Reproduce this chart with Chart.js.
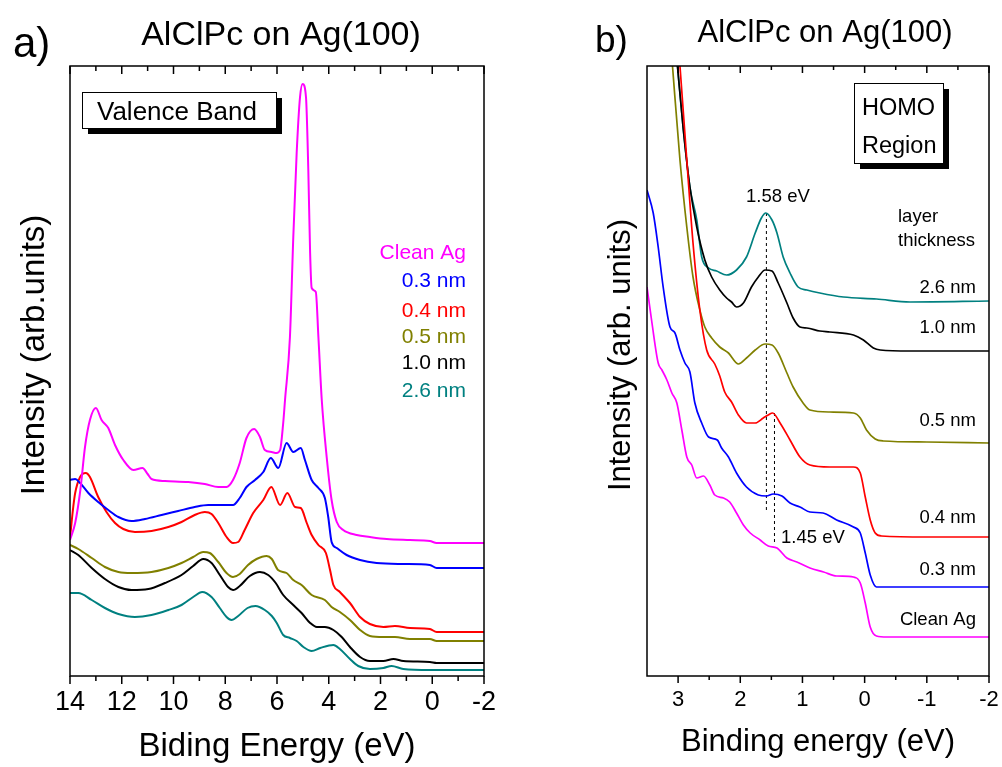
<!DOCTYPE html>
<html lang="en">
<head>
<meta charset="UTF-8">
<title>AlClPc on Ag(100)</title>
<script src="https://cdn.jsdelivr.net/npm/chart.js"></script>
<style>
    body { margin: 0; background: #ffffff; }
    #wrap { position: relative; width: 1002px; height: 767px; }
    canvas { position: absolute; top: 0; }
    #vbChart { left: 0; }
    #homoChart { left: 500px; }
</style>
</head>
<body>
<div id="wrap">
    <canvas id="vbChart" width="500" height="767"></canvas>
    <canvas id="homoChart" width="502" height="767"></canvas>
</div>

<script>
    // layer thickness labels, same order in both panels
    const layers = ['Clean Ag', '0.3 nm', '0.4 nm', '0.5 nm', '1.0 nm', '2.6 nm'];
    const layerColors = ['#ff00ff', '#0000ff', '#ff0000', '#808000', '#000000', '#008080'];

    // a) valence band, [binding energy eV, intensity arb. units]
    const vbClean = [[14,136],[13.8,153],[13.6,186],[13.42,229],[13.23,256],[13.0,268],[12.78,256],[12.52,248],[12.26,231],[11.94,216],[11.55,206],[11.2,208],[11.0,202],[10.85,197],[10.33,195],[9.43,194],[8.79,192],[8.27,189],[7.95,189],[7.7,196],[7.44,213],[7.18,238],[6.88,247],[6.66,239],[6.47,226],[6.21,224],[6.02,223],[5.88,226],[5.76,253],[5.69,276],[5.5,339],[5.37,439],[5.24,523],[5.11,579],[5.01,592],[4.88,579],[4.79,506],[4.72,423],[4.66,388],[4.5,384],[4.4,339],[4.27,276],[4.08,219],[3.89,176],[3.69,154],[3.44,146],[2.92,141],[2.41,139],[1.76,137],[0.86,136],[0.09,135],[-0.17,133],[-2,133]];
    const vb03 = [[14,196],[13.8,197],[13.61,193],[13.29,183],[12.91,174],[12.52,166],[12.13,159],[11.62,155],[11.1,157],[10.46,161],[9.82,165],[9.18,169],[8.66,171],[8.15,171],[7.7,171],[7.44,178],[7.18,189],[6.85,196],[6.53,204],[6.24,218],[5.95,208],[5.63,233],[5.37,224],[5.08,228],[4.92,216],[4.66,196],[4.4,188],[4.15,178],[4.02,159],[3.89,134],[3.69,128],[3.31,121],[2.79,116],[2.15,113],[1.12,112],[0.09,111],[-0.17,108],[-2,108]];
    const vb04 = [[14,138],[13.87,170],[13.8,183],[13.61,199],[13.39,203],[13.23,199],[12.91,179],[12.59,164],[12.26,153],[11.94,147],[11.49,144],[10.85,145],[10.2,149],[9.69,154],[9.18,161],[8.79,164],[8.53,162],[8.27,153],[7.95,139],[7.7,133],[7.5,134],[7.25,146],[6.92,163],[6.53,176],[6.22,189],[5.88,171],[5.6,183],[5.3,169],[5.08,168],[4.85,153],[4.66,141],[4.4,131],[4.11,123],[3.95,106],[3.82,91],[3.57,84],[3.18,73],[2.79,59],[2.41,52],[1.89,49],[1.44,50],[0.86,48],[0.09,47],[-0.17,44],[-2,44]];
    const vb05 = [[14,131],[13.68,127],[13.16,118],[12.65,109],[12.13,104],[11.62,103],[10.85,104],[10.2,108],[9.69,113],[9.24,119],[8.85,124],[8.6,123],[8.27,114],[7.95,103],[7.7,99],[7.44,102],[7.12,111],[6.79,117],[6.4,120],[6.2,117],[5.96,106],[5.63,103],[5.37,96],[5.05,91],[4.66,81],[4.15,76],[3.89,69],[3.57,64],[3.18,56],[2.79,46],[2.41,40],[1.89,39],[1.44,39],[0.86,37],[0.09,37],[-0.17,35],[-2,35]];
    const vb10 = [[14,126],[13.68,121],[13.16,108],[12.65,97],[12.13,89],[11.62,86],[10.97,87],[10.33,93],[9.69,101],[9.24,110],[8.85,117],[8.53,113],[8.21,101],[7.89,89],[7.7,86],[7.44,90],[7.05,100],[6.66,104],[6.34,101],[6.05,93],[5.76,81],[5.37,71],[5.05,63],[4.72,53],[4.46,49],[4.15,49],[3.82,46],[3.5,39],[3.18,29],[2.79,19],[2.41,15],[1.89,15],[1.5,17],[1.12,15],[0.09,14],[-0.17,13],[-2,13]];
    const vb26 = [[14,83],[13.68,83],[13.16,76],[12.65,68],[12.13,62],[11.49,59],[10.85,61],[10.2,66],[9.69,71],[9.24,79],[8.89,84],[8.53,79],[8.21,68],[7.95,59],[7.76,56],[7.5,60],[7.14,68],[6.83,70],[6.47,66],[6.2,60],[6.01,53],[5.76,41],[5.5,38],[5.24,35],[4.98,29],[4.66,25],[4.33,28],[3.82,31],[3.57,27],[3.18,17],[2.86,10],[2.41,7],[1.89,8],[1.57,10],[1.12,7],[0.09,6],[-2,6]];
    const vbTicks = [14, 12, 10, 8, 6, 4, 2, 0, -2];
    const vbMinor = [13, 11, 9, 7, 5, 3, 1, -1];

    // b) HOMO region
    const hoClean = [[3.5,389],[3.42,353],[3.32,313],[3.26,306],[3.18,296],[3.1,283],[3.02,273],[2.94,246],[2.86,219],[2.78,211],[2.7,198],[2.59,200],[2.49,191],[2.41,181],[2.27,178],[2.17,174],[2.06,163],[1.95,151],[1.84,143],[1.68,136],[1.55,130],[1.41,128],[1.25,118],[1.09,114],[0.88,108],[0.66,104],[0.45,100],[0.18,99],[0.07,93],[-0.01,73],[-0.09,49],[-0.19,40],[-0.36,39],[-2,39]];
    const ho03 = [[3.5,486],[3.4,463],[3.32,429],[3.24,389],[3.13,349],[3.05,343],[2.97,326],[2.89,313],[2.81,304],[2.73,273],[2.62,253],[2.51,239],[2.37,236],[2.3,228],[2.19,219],[2.06,203],[1.9,189],[1.71,181],[1.58,180],[1.47,182],[1.33,180],[1.2,173],[1.04,169],[0.88,164],[0.67,163],[0.45,156],[0.18,149],[0.07,143],[-0.01,123],[-0.09,101],[-0.19,89],[-0.36,89],[-2,89]];
    const ho04 = [[3.02,650],[2.97,610],[2.86,516],[2.76,433],[2.65,366],[2.54,326],[2.41,312],[2.33,300],[2.25,284],[2.14,274],[2.03,261],[1.9,253],[1.76,253],[1.63,258],[1.55,261],[1.48,263],[1.36,253],[1.2,236],[1.04,219],[0.88,211],[0.56,209],[0.18,209],[0.07,203],[-0.01,179],[-0.09,156],[-0.17,143],[-0.27,140],[-1,139],[-2,139]];
    const ho05 = [[3.14,650],[3.09,610],[2.97,516],[2.86,449],[2.76,399],[2.65,366],[2.57,349],[2.46,338],[2.33,329],[2.19,323],[2.03,312],[1.9,318],[1.76,326],[1.6,332],[1.49,331],[1.39,323],[1.25,303],[1.15,289],[0.99,273],[0.88,266],[0.56,264],[0.18,263],[0.07,258],[-0.03,246],[-0.17,237],[-0.3,235],[-1,234],[-2,233]];
    const ho10 = [[3.06,645],[3.01,610],[2.92,549],[2.81,489],[2.7,449],[2.57,416],[2.46,399],[2.33,386],[2.22,378],[2.14,374],[2.06,369],[1.95,373],[1.82,389],[1.71,399],[1.6,406],[1.49,405],[1.39,393],[1.25,373],[1.15,358],[1.04,349],[0.93,348],[0.72,345],[0.56,344],[0.18,341],[0.02,336],[-0.14,328],[-0.25,326],[-0.73,325],[-2,325]];
    const ho26 = [[3.06,645],[3.01,610],[2.92,549],[2.81,489],[2.7,456],[2.62,419],[2.51,408],[2.38,405],[2.22,401],[2.06,406],[1.9,419],[1.76,443],[1.66,458],[1.59,463],[1.49,456],[1.41,443],[1.31,419],[1.2,403],[1.07,389],[0.93,386],[0.72,383],[0.34,379],[-0.19,377],[-0.73,374],[-2,375]];
    // HOMO peak markers: [energy, top intensity, bottom intensity]
    const peak158 = [1.58, 463, 163];
    const peak145 = [1.45, 263, 133];
    const hoTicks = [3, 2, 1, 0, -1, -2];
    const hoMinor = [2.5, 1.5, 0.5, -0.5, -1.5];

    const FONT = '"Liberation Sans", Arial, sans-serif';
    Chart.defaults.font.family = FONT;
    Chart.defaults.color = '#000';

    const toXY = arr => arr.map(p => ({x: p[0], y: p[1]}));

    function spectra(series, width) {
        return series.map((s, i) => ({
            label: layers[i],
            data: toXY(s),
            borderColor: layerColors[i],
            borderWidth: width,
            pointRadius: 0,
            fill: false,
            cubicInterpolationMode: 'monotone'
        }));
    }

    function marker(m) {
        return {
            label: m[0] + ' eV',
            data: [{x: m[0], y: m[1]}, {x: m[0], y: m[2]}],
            borderColor: '#000',
            borderWidth: 1,
            borderDash: [3, 3],
            pointRadius: 0
        };
    }

    function txt(ctx, t, x, y, size, align, color) {
        ctx.font = size + 'px ' + FONT;
        ctx.textAlign = align || 'left';
        ctx.textBaseline = 'alphabetic';
        ctx.fillStyle = color || '#000';
        ctx.fillText(t, x, y);
    }

    // frame, tick marks, titles and boxes
    const deco = {
        id: 'deco',
        afterDraw(chart, args, o) {
            const {ctx, chartArea: a} = chart;
            const x = chart.scales.x;
            ctx.save();
            ctx.strokeStyle = '#000';
            ctx.lineWidth = 1.5;
            ctx.strokeRect(a.left, a.top, a.right - a.left, a.bottom - a.top);

            const tick = (v, len) => {
                const px = x.getPixelForValue(v);
                ctx.beginPath();
                ctx.moveTo(px, a.bottom); ctx.lineTo(px, a.bottom + len);
                ctx.moveTo(px, a.top); ctx.lineTo(px, a.top + len);
                ctx.stroke();
            };
            o.major.forEach(v => tick(v, o.majorLen));
            o.minor.forEach(v => tick(v, o.minorLen));

            txt(ctx, o.tag.t, o.tag.x, o.tag.y, o.tag.size);
            txt(ctx, o.title.t, o.title.x, o.title.y, o.title.size, 'center');

            ctx.save();
            ctx.translate(o.yTitle.x, o.yTitle.y);
            ctx.rotate(-Math.PI / 2);
            ctx.font = o.yTitle.size + 'px ' + FONT;
            ctx.textAlign = 'center';
            ctx.textBaseline = 'middle';
            ctx.fillStyle = '#000';
            ctx.fillText(o.yTitle.t, 0, 0);
            ctx.restore();

            const b = o.box;
            ctx.fillStyle = '#000';
            ctx.fillRect(b.x + b.shadow, b.y + b.shadow, b.w, b.h);
            ctx.fillStyle = '#fff';
            ctx.fillRect(b.x, b.y, b.w, b.h);
            ctx.lineWidth = 1;
            ctx.strokeRect(b.x + 0.5, b.y + 0.5, b.w, b.h);
            b.lines.forEach((l, i) => txt(ctx, l, b.tx, b.ty[i], b.size));

            o.notes.forEach(n => txt(ctx, n.t, n.x, n.y, n.size, n.align, n.color));
            ctx.restore();
        }
    };

    function baseOptions(cfg) {
        return {
            responsive: false,
            animation: false,
            layout: {padding: {top: 66, right: cfg.padRight, left: 0, bottom: 0}},
            plugins: {legend: {display: false}, tooltip: {enabled: false}, deco: cfg.deco},
            scales: {
                x: {
                    type: 'linear',
                    reverse: true,
                    min: cfg.min,
                    max: cfg.max,
                    grid: {display: false, drawTicks: false},
                    border: {display: false},
                    afterBuildTicks: s => { s.ticks = cfg.ticks.map(v => ({value: v})); },
                    ticks: {
                        padding: cfg.tickPad,
                        font: {size: cfg.tickSize},
                        maxRotation: 0,
                        autoSkip: false,
                        callback: v => String(v)
                    },
                    title: {
                        display: true,
                        text: cfg.xTitle,
                        font: {size: cfg.xTitleSize},
                        padding: {top: 0, bottom: cfg.xTitlePad}
                    },
                    afterFit: s => { s.height = 91; s.paddingLeft = 0; s.paddingRight = 0; }
                },
                y: {
                    min: 0,
                    max: 610,
                    ticks: {display: false},
                    grid: {display: false, drawTicks: false},
                    border: {display: false},
                    afterFit: s => { s.width = cfg.left; }
                }
            }
        };
    }

    const legendY = [259, 287, 317, 343, 369, 397];
    new Chart(document.getElementById('vbChart'), {
        type: 'line',
        data: {datasets: spectra([vbClean, vb03, vb04, vb05, vb10, vb26], 2)},
        options: baseOptions({
            min: -2, max: 14, ticks: vbTicks, padRight: 16, left: 70,
            tickPad: 10, tickSize: 27, xTitle: 'Biding Energy (eV)', xTitleSize: 33, xTitlePad: 0,
            deco: {
                major: vbTicks, minor: vbMinor, majorLen: 8, minorLen: 5,
                tag: {t: 'a)', x: 13, y: 57, size: 42},
                title: {t: 'AlClPc on Ag(100)', x: 281, y: 45, size: 34},
                yTitle: {t: 'Intensity (arb.units)', x: 35, y: 355, size: 33},
                box: {x: 82, y: 92, w: 194, h: 36, shadow: 6, lines: ['Valence Band'], tx: 97, ty: [120], size: 26},
                notes: layers.map((l, i) => ({t: l, x: 466, y: legendY[i], size: 21, align: 'right', color: layerColors[i]}))
            }
        }),
        plugins: [deco]
    });

    const labelY = [625, 575, 523, 426, 333, 293];
    new Chart(document.getElementById('homoChart'), {
        type: 'line',
        data: {datasets: spectra([hoClean, ho03, ho04, ho05, ho10, ho26], 1.7).concat([marker(peak158), marker(peak145)])},
        options: baseOptions({
            min: -2, max: 3.5, ticks: hoTicks, padRight: 13, left: 147,
            tickPad: 11, tickSize: 22, xTitle: 'Binding energy (eV)', xTitleSize: 31, xTitlePad: 6,
            deco: {
                major: hoTicks, minor: hoMinor, majorLen: 7, minorLen: 4,
                tag: {t: 'b)', x: 95, y: 52, size: 37},
                title: {t: 'AlClPc on Ag(100)', x: 325, y: 42, size: 31},
                yTitle: {t: 'Intensity (arb. units)', x: 121, y: 355, size: 31},
                box: {x: 354, y: 83, w: 89, h: 80, shadow: 6, lines: ['HOMO', 'Region'], tx: 362, ty: [115, 153], size: 23.5},
                notes: [
                    {t: '1.58 eV', x: 246, y: 202, size: 18.5},
                    {t: '1.45 eV', x: 281, y: 543, size: 18.5},
                    {t: 'layer', x: 398, y: 222, size: 18.5},
                    {t: 'thickness', x: 398, y: 246, size: 18.5}
                ].concat(layers.map((l, i) => ({t: l, x: 476, y: labelY[i], size: 18.5, align: 'right'})))
            }
        }),
        plugins: [deco]
    });
</script>
</body>
</html>
